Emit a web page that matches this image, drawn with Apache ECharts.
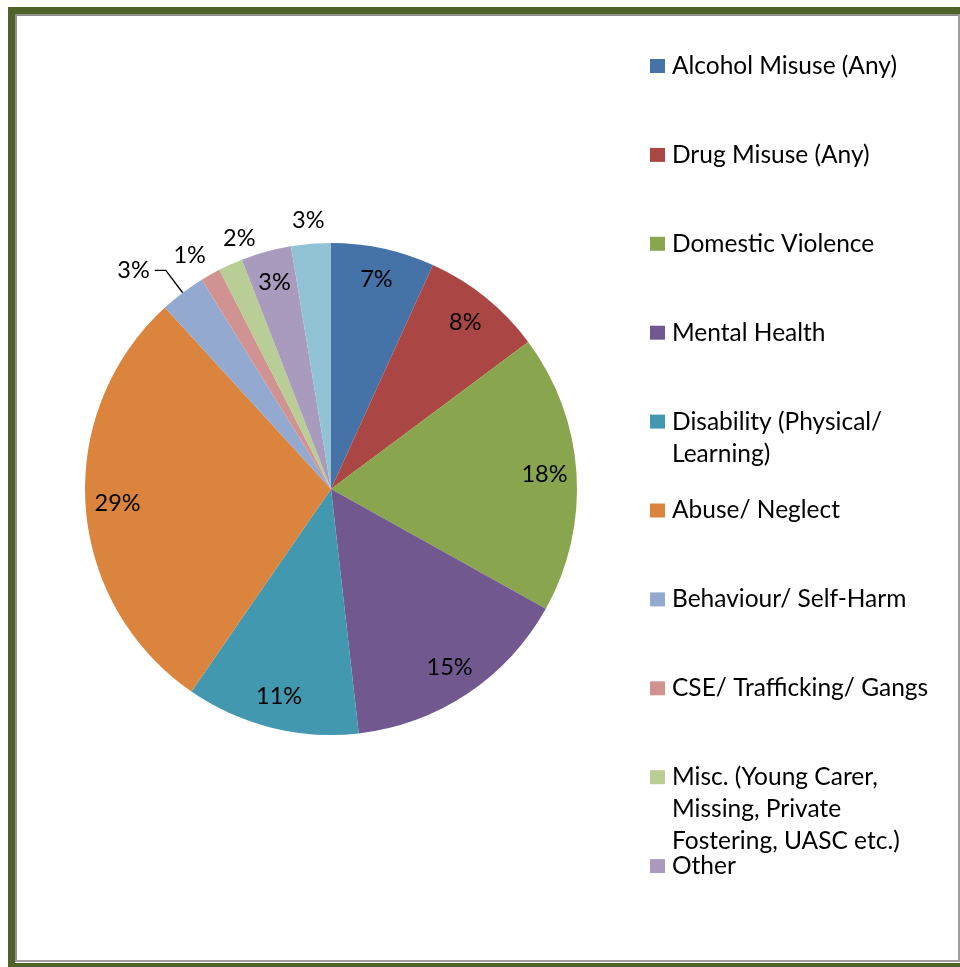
<!DOCTYPE html>
<html><head><meta charset="utf-8">
<script src="https://cdn.jsdelivr.net/npm/echarts@6/dist/echarts.min.js"></script>
<style>html,body{margin:0;padding:0;background:#fff}#c{width:960px;height:967px}</style>
</head><body><div id="c"></div>
<script>
const categories = ["Alcohol Misuse (Any)", "Drug Misuse (Any)", "Domestic Violence", "Mental Health",
  "Disability (Physical/ Learning)", "Abuse/ Neglect", "Behaviour/ Self-Harm", "CSE/ Trafficking/ Gangs",
  "Misc. (Young Carer, Missing, Private Fostering, UASC etc.)", "Other", "Not listed in legend"];
const legendLabels = ["Alcohol Misuse (Any)", "Drug Misuse (Any)", "Domestic Violence", "Mental Health",
  "Disability (Physical/\nLearning)", "Abuse/ Neglect", "Behaviour/ Self-Harm", "CSE/ Trafficking/ Gangs",
  "Misc. (Young Carer,\nMissing, Private\nFostering, UASC etc.)", "Other"];
const shares = [6.8, 8.0, 18.3, 15.1, 11.4, 28.6, 3.0, 1.3, 1.6, 3.3, 2.6];
const colors = ['#4572A7','#AA4643','#89A54E','#71588F','#4198AF','#DB843D','#93A9CF','#D19392','#B9CD96','#A99BBD','#92C3D4'];
const outsideIdx = [6, 7, 8, 10];
const leaderIdx = [6];
// small label nudges (px) for the labels placed above the pie
const labelNudge = { 7: [-11, 10], 8: [17, 4], 10: [-1, 9] };

const FONT = 'Lato';
const CX = 331, CY = 489, R = 246;

const pieData = categories.map((n, i) => ({ name: n, value: shares[i], itemStyle: { color: colors[i] } }));
const labelData = categories.map((n, i) => {
  const out = outsideIdx.includes(i);
  const lead = leaderIdx.includes(i);
  return {
    name: n, value: shares[i],
    label: { position: out ? 'outside' : 'inside', distanceToLabelLine: lead ? 5 : 0 },
    labelLine: { show: lead, length: lead ? 28 : 20, length2: lead ? 11 : 0, lineStyle: { color: '#000', width: 1.3 } }
  };
});

const legends = legendLabels.map((lab, i) => {
  const k = lab.split('\n').length;
  const total = 2 * k - 1;
  const slotY = 66 + 88.9 * i;
  return {
    data: [categories[i]], orient: 'vertical', left: 650, top: slotY - total * 16,
    padding: 0, itemWidth: 15, itemHeight: 14, selectedMode: false,
    icon: 'rect',
    formatter: () => '\n'.repeat(k - 1) + lab,
    textStyle: { fontFamily: FONT, fontSize: 24.5, lineHeight: 32, color: '#000', padding: [0, 0, 0, 2] }
  };
});

const frame = [
  { type: 'rect', shape: { x: 8, y: 7, width: 952, height: 7 }, style: { fill: '#4F6228' } },
  { type: 'rect', shape: { x: 8, y: 7, width: 7, height: 960 }, style: { fill: '#4F6228' } },
  { type: 'rect', shape: { x: 8, y: 963, width: 952, height: 4 }, style: { fill: '#4F6228' } },
  { type: 'rect', shape: { x: 15, y: 14, width: 945, height: 2 }, style: { fill: '#909090' } },
  { type: 'rect', shape: { x: 15, y: 14, width: 2, height: 948 }, style: { fill: '#909090' } },
  { type: 'rect', shape: { x: 958, y: 14, width: 2, height: 948 }, style: { fill: '#A0A0A0' } },
  { type: 'rect', shape: { x: 15, y: 960, width: 945, height: 2 }, style: { fill: '#A0A0A0' } }
];

const chart = echarts.init(document.getElementById('c'), null, { renderer: 'canvas' });
chart.setOption({
  animation: false,
  backgroundColor: '#fff',
  graphic: frame,
  legend: legends,
  series: [
    {
      type: 'pie', center: [CX, CY], radius: [0, R], startAngle: 90, clockwise: true,
      avoidLabelOverlap: false, silent: true, label: { show: false }, labelLine: { show: false },
      itemStyle: { borderWidth: 0 }, emphasis: { disabled: true },
      data: pieData
    },
    {
      type: 'pie', center: [CX, CY], radius: [R * 0.715, R], startAngle: 90, clockwise: true,
      avoidLabelOverlap: false, silent: true, emphasis: { disabled: true },
      itemStyle: { color: 'rgba(0,0,0,0)', borderWidth: 0 },
      label: { show: true, color: '#000', fontFamily: FONT, fontSize: 23.5,
        formatter: p => Math.round(p.percent) + '%' },
      labelLayout: p => {
        const nd = labelNudge[p.dataIndex];
        return nd ? { align: 'center', verticalAlign: 'bottom', dx: nd[0], dy: nd[1] } : {};
      },
      data: labelData
    }
  ]
});
</script></body></html>
